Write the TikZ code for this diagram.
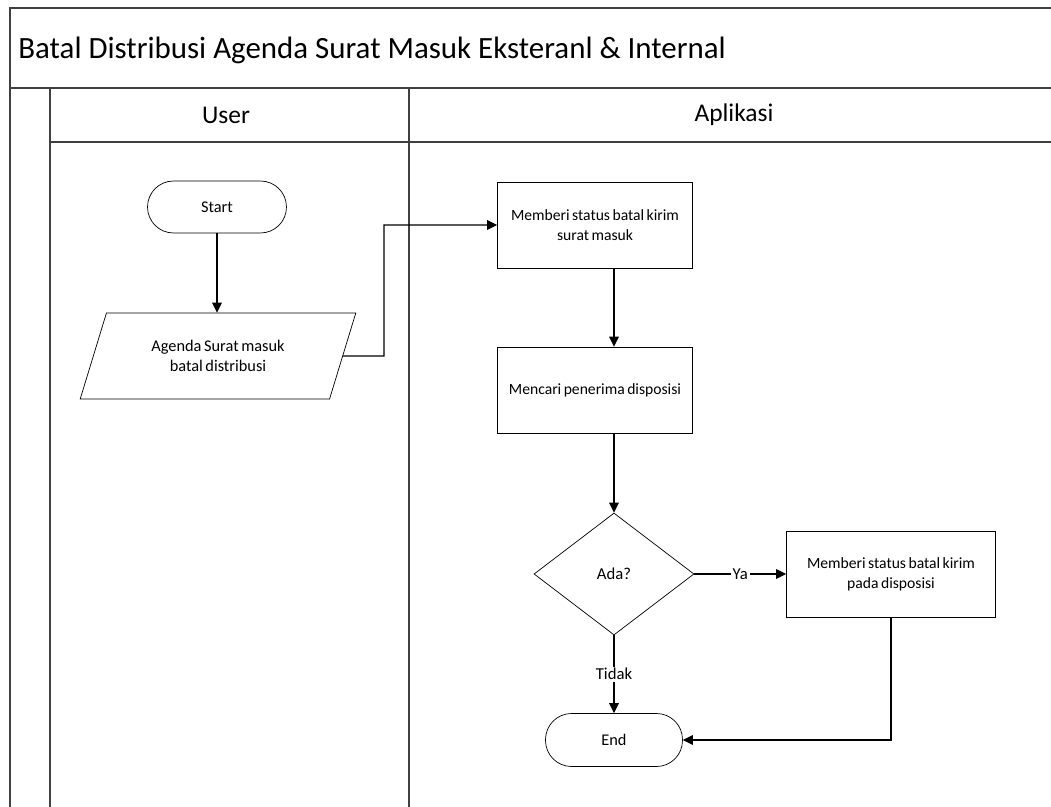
\documentclass[tikz,border=0pt]{standalone}
\usepackage{fontspec}
\setmainfont{Carlito}
\newfontfamily\nodefont{Carlito}[WordSpace=0.7]
\usetikzlibrary{shapes.geometric,arrows.meta}

\begin{document}
\begin{tikzpicture}[x=0.02cm,y=-0.02cm,
    lane/.style={draw=black!75, line width=1pt},
    terminal/.style={draw, rounded corners=0.52cm, minimum width=2.78cm, minimum height=1.04cm, font=\nodefont\fontsize{9.3}{11}\selectfont, align=center},
    process/.style={draw, minimum width=3.9cm, minimum height=1.72cm, font=\nodefont\fontsize{8.9}{11.5}\selectfont, align=center},
    io/.style={draw, trapezium, trapezium left angle=63.7, trapezium right angle=116.3, trapezium stretches=true, minimum width=5.56cm, minimum height=1.72cm, inner sep=0pt, font=\nodefont\fontsize{9.3}{11.5}\selectfont, align=center},
    decision/.style={draw, diamond, minimum width=3.2cm, minimum height=2.44cm, inner sep=0pt, font=\nodefont\fontsize{9.5}{11}\selectfont},
    arr/.style={-{Triangle[length=5.7pt,width=5.5pt]}, line width=0.6pt},
    lbl/.style={fill=white, inner sep=1pt, font=\nodefont\fontsize{9.5}{11}\selectfont}]
        \useasboundingbox (0,0) rectangle (1051,807);

        % Draw the pool frame and the two lanes
        \draw[lane] (10,807) -- (10,8) -- (1051,8);
        \draw[lane] (10,88) -- (1051,88);
        \draw[lane] (50,807) -- (50,88);
        \draw[lane] (50,142) -- (1051,142);
        \draw[lane] (409,807) -- (409,88);

        % Add the title and the lane headers
        \node[anchor=west, inner sep=0pt, font=\fontsize{17.6}{21}\selectfont] (title) at (18,50) {Batal Distribusi Agenda Surat Masuk Eksteranl \& Internal};
        \node[font=\fontsize{14.5}{17}\selectfont] (user) at (226,115) {User};
        \node[font=\fontsize{14.5}{17}\selectfont] (aplikasi) at (734,115) {Aplikasi};

        % Draw the flow nodes
        \node[terminal] (start) at (217,207) {Start};
        \node[io] (agenda) at (218,356) {Agenda Surat masuk\\batal distribusi};
        \node[process] (memberi) at (595,225) {Memberi status batal kirim\\surat masuk};
        \node[process] (mencari) at (595,390) {Mencari penerima disposisi};
        \node[decision] (ada) at (614,574) {Ada?};
        \node[process, minimum width=4.18cm] (memberidispo) at (891,574) {Memberi status batal kirim\\pada disposisi};
        \node[terminal, minimum width=2.74cm, minimum height=1.06cm] (end) at (614,740) {End};
        \coordinate (bend) at (384,356);

        % Draw the connectors
        \draw[arr] (start) -- (start |- agenda.north);
        \draw[arr] (agenda.east) -- (bend) |- (memberi.west);
        \draw[arr] (memberi.south -| ada.north) -- (mencari.north -| ada.north);
        \draw[arr] (mencari.south -| ada.north) -- (ada.north);
        \draw[arr] (ada.east) -- node[lbl] (ya) {Ya} (memberidispo.west);
        \draw[arr] (ada.south) -- node[lbl] (tidak) {Tidak} (end.north);
        \draw[arr] (memberidispo.south) |- (end.east);
      \end{tikzpicture}
\end{document}
